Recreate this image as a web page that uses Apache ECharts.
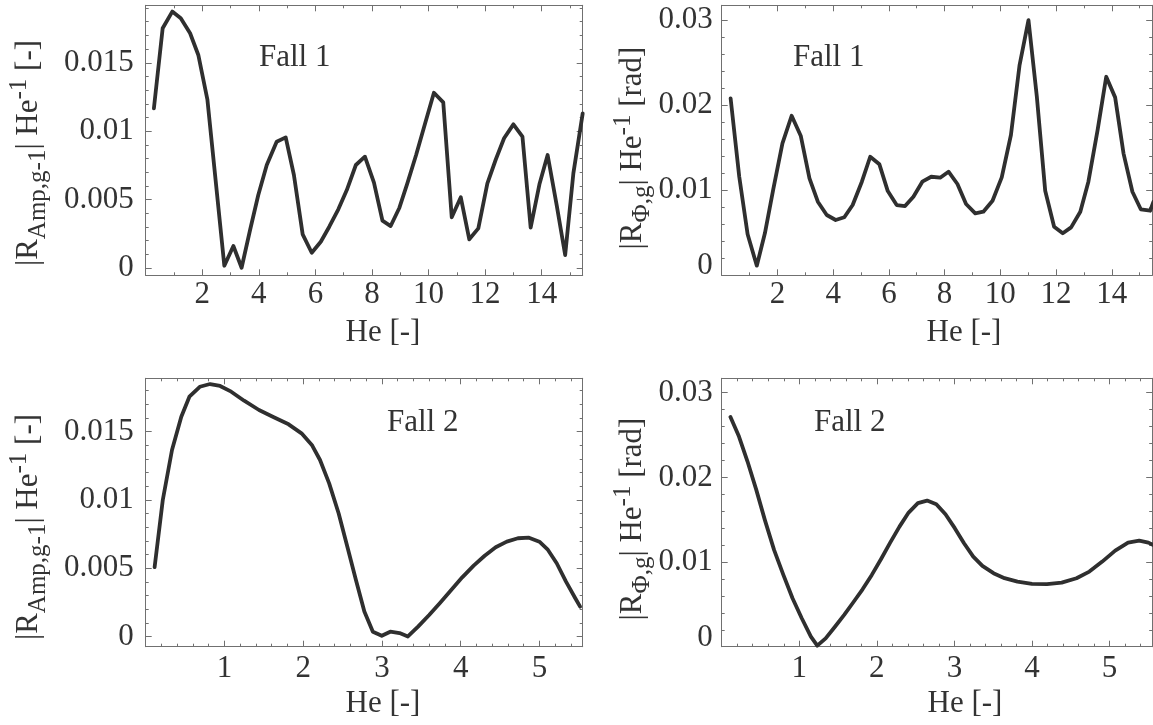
<!DOCTYPE html>
<html>
<head>
<meta charset="utf-8">
<script src="https://cdn.jsdelivr.net/npm/echarts@6/dist/echarts.min.js"></script>
<style>
  html, body { margin: 0; padding: 0; background: #ffffff; }
  #chart { width: 1153px; height: 725px; }
</style>
</head>
<body>
<div id="chart"></div>
<script>
// ---- data: Fall 1 (He 0 .. 15.45) ----
const heFall1Amp = [0.29, 0.60, 0.94, 1.24, 1.57, 1.86, 2.18, 2.48, 2.78, 3.10, 3.39, 3.69, 3.98, 4.28, 4.63, 4.95, 5.24, 5.55, 5.87, 6.19, 6.49, 6.81, 7.11, 7.43, 7.75, 8.07, 8.37, 8.66, 8.97, 9.25, 9.56, 9.88, 10.19, 10.52, 10.82, 11.14, 11.44, 11.76, 12.08, 12.38, 12.67, 13.00, 13.32, 13.61, 13.92, 14.21, 14.53, 14.83, 15.12, 15.45];
const ampFall1 = [0.01167, 0.01752, 0.01874, 0.01825, 0.01716, 0.01557, 0.01233, 0.00625, 0.00017, 0.00161, 0.00002, 0.00278, 0.00534, 0.00753, 0.00923, 0.00955, 0.00680, 0.00246, 0.00112, 0.00192, 0.00302, 0.00429, 0.00570, 0.00753, 0.00814, 0.00624, 0.00346, 0.00307, 0.00441, 0.00619, 0.00826, 0.01058, 0.01281, 0.01211, 0.00371, 0.00517, 0.00210, 0.00290, 0.00619, 0.00795, 0.00948, 0.01050, 0.00960, 0.00295, 0.00612, 0.00826, 0.00460, 0.00095, 0.00692, 0.01130];

const heFall1Phi = [0.32, 0.63, 0.93, 1.26, 1.55, 1.85, 2.18, 2.51, 2.84, 3.15, 3.45, 3.77, 4.09, 4.40, 4.70, 5.03, 5.33, 5.66, 5.96, 6.28, 6.58, 6.88, 7.20, 7.52, 7.84, 8.14, 8.46, 8.77, 9.10, 9.39, 9.72, 10.05, 10.38, 10.69, 11.01, 11.31, 11.61, 11.93, 12.24, 12.54, 12.87, 13.16, 13.49, 13.80, 14.12, 14.42, 14.74, 15.04, 15.38, 15.49];
const phiFall1 = [0.02077, 0.01157, 0.00481, 0.00113, 0.00493, 0.01009, 0.01549, 0.01873, 0.01635, 0.01138, 0.00864, 0.00708, 0.00649, 0.00681, 0.00825, 0.01099, 0.01392, 0.01303, 0.00989, 0.00825, 0.00813, 0.00923, 0.01099, 0.01157, 0.01146, 0.01216, 0.01072, 0.00837, 0.00728, 0.00747, 0.00876, 0.01150, 0.01647, 0.02468, 0.02996, 0.02096, 0.00993, 0.00570, 0.00493, 0.00563, 0.00747, 0.01099, 0.01705, 0.02331, 0.02089, 0.01432, 0.00981, 0.00775, 0.00758, 0.00860];

// ---- data: Fall 2 (He 0 .. 5.55) ----
const heFall2Amp = [0.113, 0.217, 0.334, 0.452, 0.555, 0.687, 0.818, 0.945, 1.086, 1.25, 1.439, 1.627, 1.815, 1.979, 2.11, 2.214, 2.33, 2.45, 2.566, 2.67, 2.777, 2.885, 2.998, 3.106, 3.224, 3.33, 3.459, 3.6, 3.74, 3.88, 4.02, 4.165, 4.305, 4.445, 4.586, 4.727, 4.868, 5.0, 5.103, 5.22, 5.338, 5.456, 5.517];
const ampFall2 = [0.00507, 0.00999, 0.01365, 0.01609, 0.01755, 0.01828, 0.01848, 0.01834, 0.01792, 0.01726, 0.01658, 0.01605, 0.01553, 0.01487, 0.01402, 0.01292, 0.01121, 0.00902, 0.00646, 0.00414, 0.00182, 0.00035, 0.00005, 0.00035, 0.00025, 0.0, 0.00072, 0.00157, 0.00247, 0.0034, 0.00433, 0.00518, 0.00591, 0.00653, 0.00694, 0.00719, 0.00723, 0.00694, 0.00638, 0.00536, 0.00401, 0.0028, 0.00218];

const heFall2Phi = [0.113, 0.223, 0.333, 0.446, 0.556, 0.675, 0.795, 0.913, 1.032, 1.15, 1.232, 1.34, 1.46, 1.579, 1.697, 1.816, 1.935, 2.053, 2.172, 2.292, 2.41, 2.529, 2.648, 2.767, 2.885, 3.005, 3.124, 3.243, 3.361, 3.504, 3.646, 3.813, 4.0, 4.193, 4.383, 4.574, 4.74, 4.906, 5.073, 5.239, 5.382, 5.501, 5.563];
const phiFall2 = [0.02712, 0.02482, 0.02187, 0.01852, 0.01498, 0.01143, 0.00848, 0.00572, 0.00336, 0.00118, 0.00012, 0.00099, 0.00236, 0.00375, 0.00525, 0.00678, 0.00848, 0.01033, 0.01229, 0.01418, 0.01584, 0.01695, 0.01726, 0.01683, 0.01565, 0.014, 0.01222, 0.01064, 0.00954, 0.00868, 0.00809, 0.00768, 0.00741, 0.00738, 0.00757, 0.00809, 0.00887, 0.01005, 0.01135, 0.01229, 0.01253, 0.01229, 0.01202];

// ---- texts ----
const caseLabels = ['Fall 1', 'Fall 1', 'Fall 2', 'Fall 2'];
const xTitle = 'He [-]';
const yTitleAmp = '{m||R}{sb|Amp,g-1}{m|| He}{sp|-1}{m| [-]}';
const yTitlePhi = '{m||R}{sb|\u03A6,g}{m|| He}{sp|-1}{m| [rad]}';

// ---- styling ----
const FONT = '"Liberation Serif", "Times New Roman", serif';
const TEXT = '#333333';
const FRAME = '#707070';
const CURVE = '#2f2f2f';
const FS = 31;

// panel layout: plot frames in pixels
const panels = [
  { left: 145.7, top: 5.3,   width: 437.0, height: 270.0, xMax: 15.45, xInt: 2, xMinor: 2,
    yMin: -0.00053, yMax: 0.0192, yInt: null, yMinor: 5, xMargin: 4, yMargin: 12, raiseZero: false,
    he: heFall1Amp, val: ampFall1 },
  { left: 721.7, top: 5.3,   width: 430.5, height: 270.0, xMax: 15.45, xInt: 2, xMinor: 2,
    yMin: 0, yMax: 0.0317, yInt: 0.01, yMinor: 5, xMargin: 4, yMargin: 9, raiseZero: true,
    he: heFall1Phi, val: phiFall1 },
  { left: 145.7, top: 378.3, width: 437.0, height: 268.4, xMax: 5.55, xInt: 1, xMinor: 5,
    yMin: -0.00075, yMax: 0.0189, yInt: null, yMinor: 5, xMargin: 7, yMargin: 12, raiseZero: false,
    he: heFall2Amp, val: ampFall2 },
  { left: 721.7, top: 378.3, width: 430.5, height: 268.4, xMax: 5.55, xInt: 1, xMinor: 5,
    yMin: 0, yMax: 0.0317, yInt: 0.01, yMinor: 5, xMargin: 7, yMargin: 9, raiseZero: true,
    he: heFall2Phi, val: phiFall2 }
];

const line = { show: true, onZero: false, lineStyle: { color: FRAME, width: 1 } };
const tick = { show: true, inside: true, length: 6, lineStyle: { color: FRAME, width: 1 } };
const minor = (n) => ({ show: true, splitNumber: n, length: 3, lineStyle: { color: FRAME, width: 1 } });
const labelFont = { color: TEXT, fontFamily: FONT, fontSize: FS };

const grids = [], xAxes = [], yAxes = [], series = [];

panels.forEach((p, i) => {
  grids.push({ left: p.left, top: p.top, width: p.width, height: p.height,
               containLabel: false, outerBoundsMode: 'none', show: false });

  const xBase = { gridIndex: i, type: 'value', min: 0, max: p.xMax, interval: p.xInt,
                  axisLine: line, axisTick: tick, minorTick: minor(p.xMinor),
                  splitLine: { show: false }, minorSplitLine: { show: false } };
  xAxes.push(Object.assign({}, xBase, { position: 'bottom',
    axisLabel: Object.assign({ show: true, showMinLabel: false, showMaxLabel: false, margin: p.xMargin }, labelFont) }));
  xAxes.push(Object.assign({}, xBase, { position: 'top', axisLabel: { show: false } }));

  const yBase = { gridIndex: i, type: 'value', min: p.yMin, max: p.yMax, scale: true,
                  axisLine: line, axisTick: tick, minorTick: minor(p.yMinor),
                  splitLine: { show: false }, minorSplitLine: { show: false } };
  if (p.yInt) { yBase.interval = p.yInt; } else { yBase.splitNumber = 4; }

  const yLabel = Object.assign({ show: true, showMinLabel: !!p.raiseZero, showMaxLabel: false,
                                 margin: p.yMargin, align: 'right' }, labelFont);
  if (p.raiseZero) {
    yLabel.formatter = (v) => (v === 0 ? '{z|0}' : String(v));
    yLabel.rich = { z: { color: TEXT, fontFamily: FONT, fontSize: FS, padding: [0, 0, 18, 0] } };
  }
  yAxes.push(Object.assign({}, yBase, { position: 'left', axisLabel: yLabel }));
  yAxes.push(Object.assign({}, yBase, { position: 'right', axisLabel: { show: false } }));

  series.push({
    type: 'line', xAxisIndex: 2 * i, yAxisIndex: 2 * i,
    data: p.he.map((h, k) => [h, p.val[k]]),
    showSymbol: false, symbol: 'none', smooth: false, clip: true,
    lineStyle: { color: CURVE, width: 3.8, join: 'round', cap: 'round' },
    animation: false
  });
});

// annotation texts
const richTitle = {
  m:  { fontFamily: FONT, fontSize: FS, lineHeight: 44, fill: TEXT },
  sb: { fontFamily: FONT, fontSize: 25, verticalAlign: 'bottom', fill: TEXT },
  sp: { fontFamily: FONT, fontSize: 25, verticalAlign: 'top', fill: TEXT }
};
function txt(x, y, s, align) {
  return { type: 'text', x: x, y: y, silent: true,
           style: { text: s, font: FS + 'px ' + FONT, fill: TEXT,
                    align: align, textAlign: align, verticalAlign: 'middle', textVerticalAlign: 'middle' } };
}
function yTitle(x, y, s) {
  return { type: 'text', x: x, y: y, rotation: Math.PI / 2, silent: true,
           style: { text: s, rich: richTitle, font: FS + 'px ' + FONT, fill: TEXT,
                    align: 'center', textAlign: 'center', verticalAlign: 'middle', textVerticalAlign: 'middle' } };
}

const graphics = [
  txt(259, 58, caseLabels[0], 'left'),
  txt(793, 58, caseLabels[1], 'left'),
  txt(387, 423, caseLabels[2], 'left'),
  txt(814, 423, caseLabels[3], 'left'),
  txt(383, 333, xTitle, 'center'),
  txt(964, 333, xTitle, 'center'),
  txt(383, 704, xTitle, 'center'),
  txt(965, 704, xTitle, 'center'),
  yTitle(29, 153, yTitleAmp),
  yTitle(633, 148, yTitlePhi),
  yTitle(29, 527, yTitleAmp),
  yTitle(633, 519, yTitlePhi)
];

const chart = echarts.init(document.getElementById('chart'), null, { renderer: 'canvas' });
chart.setOption({
  backgroundColor: '#ffffff',
  animation: false,
  grid: grids,
  xAxis: xAxes,
  yAxis: yAxes,
  series: series,
  graphic: { elements: graphics }
});
</script>
</body>
</html>
